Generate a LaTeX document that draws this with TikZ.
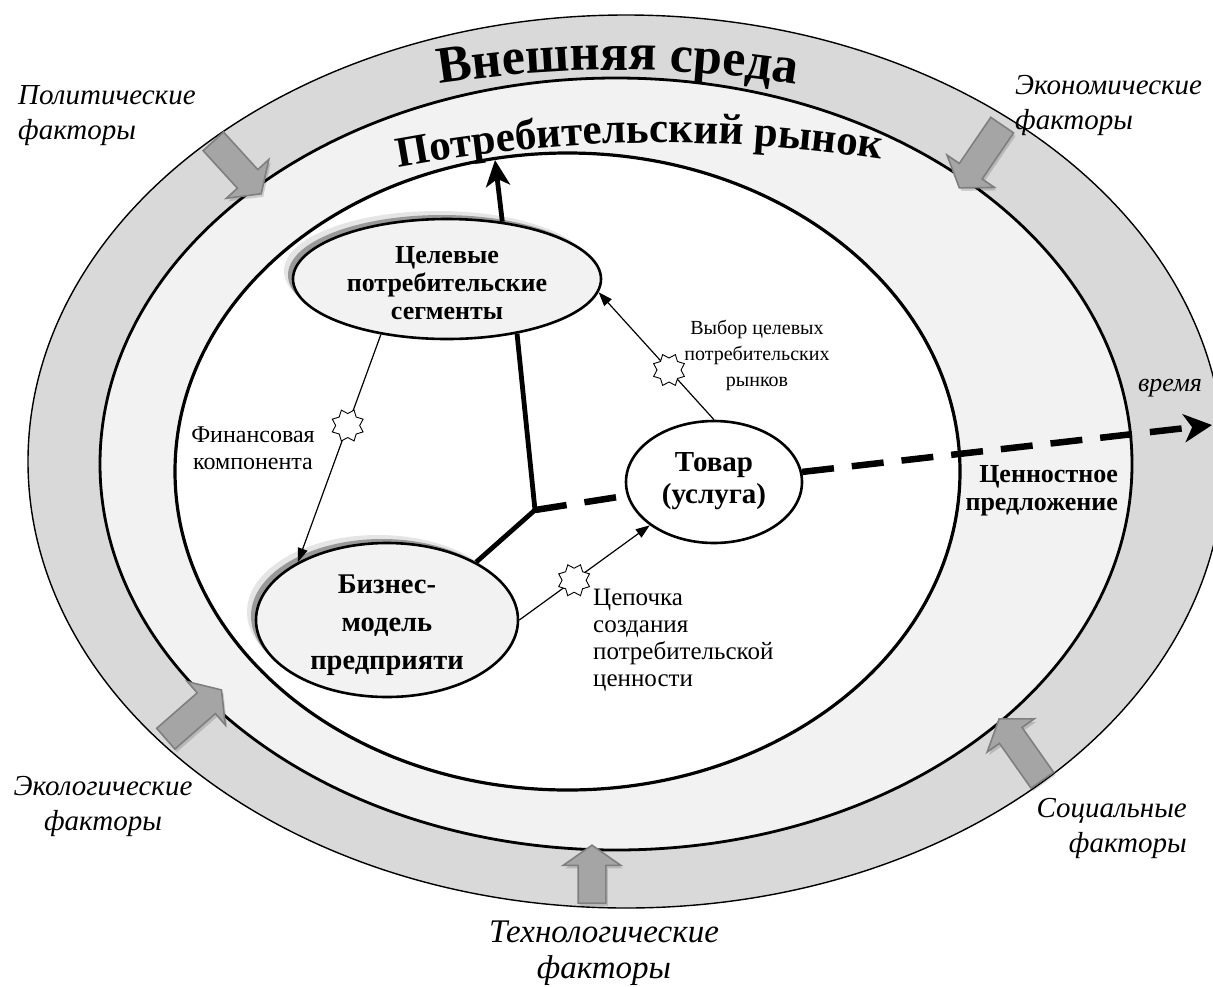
\documentclass[tikz,border=0pt]{standalone}
\usepackage{fontspec}
\setmainfont{Liberation Serif}
\usetikzlibrary{arrows.meta,shapes.geometric,shapes.arrows,decorations.text,shadows}
\definecolor{ringdark}{HTML}{D9D9D9}
\definecolor{ringlight}{HTML}{F2F2F2}
\definecolor{arrowfill}{HTML}{A5A5A5}
\definecolor{arrowedge}{HTML}{7F7F7F}
\begin{document}
\begin{tikzpicture}[x=1pt,y=-1pt,
  factor/.style={single arrow, draw=arrowedge, fill=arrowfill, line width=1.6pt,
    inner xsep=0pt, inner ysep=13pt, single arrow head extend=15pt,
    single arrow tip angle=110,
    drop shadow={shadow xshift=2pt, shadow yshift=-3pt, fill=black, opacity=0.15}},
  outerlbl/.style={font=\itshape\fontsize{29}{35}\selectfont, inner sep=0pt},
  smalllbl/.style={font=\fontsize{20}{26}\selectfont, inner sep=0pt, align=center},
  ovalnode/.style={ellipse, draw, line width=2.6pt, inner sep=0pt},
  thinarrow/.style={line width=1.2pt, -{Triangle[length=14pt,width=10pt]}},
  starmark/.style={star, star points=8, star point ratio=0.72, draw, fill=white,
    line width=0.9pt, minimum size=24pt, inner sep=0pt},
  heavy/.style={line width=4.8pt},
  timeline/.style={line width=6.5pt, dash pattern=on 32pt off 18pt},
]
\useasboundingbox (0,0) rectangle (1213,986);
% rings
\draw[line width=1.4pt, fill=ringdark] (626,461.5) ellipse [x radius=598, y radius=446.5];
\draw[line width=2.8pt, fill=ringlight] (616,464) ellipse [x radius=516, y radius=386];
\draw[line width=3.2pt, fill=white] (567.5,471.5) ellipse [x radius=392.5, y radius=318.5];
% curved titles
\path[decorate, decoration={text along path, text align=center,
  text={|\bfseries\fontsize{52}{60}\selectfont|Внешняя среда}}]
  (400,91) .. controls (545.3,63) and (690.7,63) .. (836,91);
\path[decorate, decoration={text along path, text align=center,
  text={|\bfseries\fontsize{43}{50}\selectfont|Потребительский рынок}}]
  (370,172.8) .. controls (550,135.8) and (730,133) .. (910,164.2);
% factor arrows
\node[factor, minimum height=71pt, rotate=-47.6] (fpol) at (234,164) {};
\node[factor, minimum height=76pt, rotate=-124.3] (feco) at (983.5,152.5) {};
\node[factor, minimum height=74pt, rotate=41.2] (fecol) at (190,717.5) {};
\node[factor, minimum height=75pt, rotate=125.2] (fsoc) at (1023.5,753.5) {};
\node[factor, minimum height=58pt, rotate=90] (ftech) at (592,879) {};
% outer labels
\node[outerlbl, anchor=west, align=left] (lpol) at (18,116) {Политические\\факторы};
\node[outerlbl, anchor=west, align=left] (leco) at (1015,105) {Экономические\\факторы};
\node[outerlbl, align=center] (lecol) at (103,806) {Экологические\\факторы};
\node[outerlbl, anchor=east, align=right] (lsoc) at (1187,828) {Социальные\\факторы};
\node[outerlbl, align=center, font=\itshape\fontsize{33}{36}\selectfont] (ltech) at (604,953) {Технологические\\факторы};
% shadows of the two grey ovals
\fill[black!10] (438,271) ellipse [x radius=154, y radius=60];
\fill[black!40] (442,275) ellipse [x radius=154, y radius=60];
\fill[black!10] (378,612) ellipse [x radius=131, y radius=77];
\fill[black!40] (382,616) ellipse [x radius=131, y radius=77];
% main nodes
\node[ovalnode, fill=ringlight, minimum width=308pt, minimum height=120pt] (seg) at (447,279) {};
\node[ovalnode, fill=ringlight, minimum width=262pt, minimum height=154pt] (biz) at (387,620) {};
\node[ovalnode, fill=white, minimum width=176pt, minimum height=122pt] (tov) at (714,482) {};
\node[align=center, font=\bfseries\fontsize{26}{28}\selectfont] (segT) at (447,283) {Целевые\\потребительские\\сегменты};
\node[align=center, font=\bfseries\fontsize{28.5}{38}\selectfont] (bizT) at (387,625) {Бизнес-\\модель\\предприяти};
\node[align=center, font=\bfseries\fontsize{29}{32}\selectfont] (tovT) at (714,481) {Товар\\(услуга)};
% thick structure
\coordinate (jn) at (535,510);
\coordinate (mkt) at (495,160);
\coordinate (timeend) at (1212,425);
\draw[heavy, line join=miter] (seg.-38.5) -- (jn) -- (biz.33.4);
\draw[heavy, -{Stealth[length=26pt,width=24pt,inset=7pt]}] (seg.46.6) -- (mkt);
\draw[timeline] (jn) -- (tov);
\draw[timeline, -{Stealth[length=28pt,width=28pt,inset=8pt]}] (tov) -- (timeend);
% thin arrows with stars
\draw[thinarrow] (seg.220) -- node[starmark, pos=0.4] (s1) {} (biz.147);
\draw[thinarrow] (biz.0) -- node[starmark, pos=0.42] (s2) {} (tov.214);
\draw[thinarrow] (tov.north) -- node[starmark, pos=0.39] (s3) {} (seg.-5);
% small labels
\node[smalllbl, font=\fontsize{24}{27}\selectfont] (lfin) at (253,448) {Финансовая\\компонента};
\node[smalllbl] (lvyb) at (757,355) {Выбор целевых\\потребительских\\рынков};
\node[smalllbl, font=\fontsize{25}{27}\selectfont, anchor=west, align=left] (lcep) at (593,640) {Цепочка\\создания\\потребительской\\ценности};
\node[inner sep=0pt, anchor=east, align=right, font=\bfseries\fontsize{26}{28}\selectfont] (lval) at (1118,491) {Ценностное\\предложение};
\node[inner sep=0pt, font=\itshape\fontsize{26}{28}\selectfont] (ltime) at (1170,388) {время};
\end{tikzpicture}
\end{document}
